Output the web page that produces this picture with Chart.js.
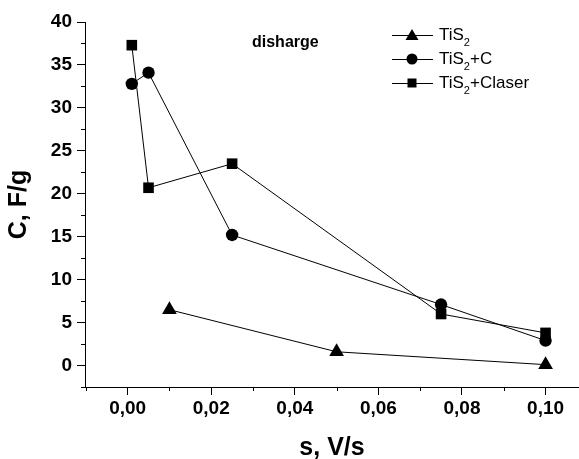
<!DOCTYPE html>
<html>
<head>
<meta charset="utf-8">
<script src="https://cdn.jsdelivr.net/npm/chart.js@4/dist/chart.umd.min.js"></script>
<style>
  html, body { margin: 0; padding: 0; background: #fff; }
</style>
</head>
<body>
<canvas id="chart" width="579" height="459"></canvas>
<script>
// data
const tisX = [0.01, 0.05, 0.10]
const tisY = [6.5, 1.6, 0.1]
const tisCX = [0.001, 0.005, 0.025, 0.075, 0.10]
const tisCY = [32.8, 34.1, 15.2, 7.1, 2.9]
const laserX = [0.001, 0.005, 0.025, 0.075, 0.10]
const laserY = [37.3, 20.7, 23.5, 6.0, 3.8]
const seriesNames = ['TiS|2|', 'TiS|2|+C', 'TiS|2|+Claser']
const xTicks = [0, 0.02, 0.04, 0.06, 0.08, 0.10]
const yTicks = [0, 5, 10, 15, 20, 25, 30, 35, 40]

const FONT = "'Liberation Sans', Arial, sans-serif"

const pts = (xs, ys) => xs.map((x, i) => ({ x: x, y: ys[i] }))

const radii = { triangle: 8.5, circle: 6.2, rect: 7.5 }

const mkSet = (label, data, style) => ({
  label: label,
  data: data,
  showLine: true,
  borderColor: '#000',
  backgroundColor: '#000',
  borderWidth: 1,
  pointStyle: style,
  pointRadius: radii[style],
  pointBorderWidth: 0
})

// minor ticks + text labels drawn by hand
const extras = {
  id: 'extras',
  afterDraw (chart) {
    const ctx = chart.ctx
    const xs = chart.scales.x
    const ys = chart.scales.y
    ctx.save()
    ctx.strokeStyle = '#000'
    ctx.lineWidth = 1
    // minor x ticks
    for (let v = -0.01; v <= 0.105; v += 0.02) {
      const px = Math.round(xs.getPixelForValue(v)) + 0.5
      ctx.beginPath(); ctx.moveTo(px, xs.top); ctx.lineTo(px, xs.top + 4); ctx.stroke()
    }
    // minor y ticks
    for (let v = -2.5; v <= 40; v += 5) {
      const py = Math.round(ys.getPixelForValue(v)) + 0.5
      ctx.beginPath(); ctx.moveTo(ys.right - 4, py); ctx.lineTo(ys.right, py); ctx.stroke()
    }
    // caption
    ctx.fillStyle = '#000'
    ctx.font = 'bold 16px ' + FONT
    ctx.textBaseline = 'middle'
    ctx.fillText('disharge', 252, 43)
    // legend
    const styles = ['triangle', 'circle', 'rect']
    const top = 35
    const gap = 24
    styles.forEach((s, i) => {
      const y = top + i * gap
      ctx.beginPath(); ctx.moveTo(392, y + 0.5); ctx.lineTo(433, y + 0.5); ctx.stroke()
      ctx.beginPath()
      if (s === 'triangle') {
        ctx.moveTo(412, y - 6); ctx.lineTo(418.5, y + 5); ctx.lineTo(405.5, y + 5); ctx.closePath()
      } else if (s === 'circle') {
        ctx.arc(412, y, 5.5, 0, Math.PI * 2)
      } else {
        ctx.rect(407.5, y - 4.5, 9, 9)
      }
      ctx.fill()
      const parts = seriesNames[i].split('|')
      let x = 439
      ctx.font = '17px ' + FONT
      ctx.fillText(parts[0], x, y)
      x += ctx.measureText(parts[0]).width
      ctx.font = '11px ' + FONT
      ctx.fillText(parts[1], x, y + 8)
      x += ctx.measureText(parts[1]).width
      ctx.font = '17px ' + FONT
      ctx.fillText(parts[2], x, y)
    })
    ctx.restore()
  }
}

new Chart(document.getElementById('chart'), {
  type: 'scatter',
  data: {
    datasets: [
      mkSet('TiS2', pts(tisX, tisY), 'triangle'),
      mkSet('TiS2+C', pts(tisCX, tisCY), 'circle'),
      mkSet('TiS2+Claser', pts(laserX, laserY), 'rect')
    ]
  },
  options: {
    responsive: false,
    animation: false,
    devicePixelRatio: 1,
    layout: { autoPadding: false, padding: { top: 22, right: 0, left: 0, bottom: 0 } },
    plugins: { legend: { display: false }, tooltip: { enabled: false } },
    scales: {
      x: {
        type: 'linear',
        min: -0.0102,
        max: 0.108,
        afterBuildTicks: (axis) => { axis.ticks = xTicks.map(v => ({ value: v })) },
        afterFit: (axis) => {
          axis.height = 72
          axis.paddingLeft = 0
          axis.paddingRight = 0
        },
        border: { color: '#000', width: 1 },
        grid: { drawOnChartArea: false, color: '#000', tickLength: 8 },
        ticks: {
          color: '#000',
          padding: 2,
          maxRotation: 0,
          font: { family: FONT, weight: 'bold', size: 19 },
          callback: (v) => v.toFixed(2).replace('.', ',')
        },
        title: {
          display: true,
          text: 's, V/s',
          color: '#000',
          padding: { top: 0, bottom: -1.5 },
          font: { family: FONT, weight: 'bold', size: 25, lineHeight: 1 }
        }
      },
      y: {
        type: 'linear',
        min: -2.5,
        max: 40,
        afterBuildTicks: (axis) => { axis.ticks = yTicks.map(v => ({ value: v })) },
        afterFit: (axis) => {
          axis.width = 85
          axis.paddingTop = 0
          axis.paddingBottom = 0
        },
        border: { color: '#000', width: 1 },
        grid: { drawOnChartArea: false, color: '#000', tickLength: 8 },
        ticks: {
          color: '#000',
          padding: 5,
          font: { family: FONT, weight: 'bold', size: 19 },
          callback: (v) => String(v)
        },
        title: {
          display: true,
          text: 'C, F/g',
          color: '#000',
          padding: { top: 7, bottom: 0 },
          font: { family: FONT, weight: 'bold', size: 25, lineHeight: 1 }
        }
      }
    }
  },
  plugins: [extras]
})
</script>
</body>
</html>
